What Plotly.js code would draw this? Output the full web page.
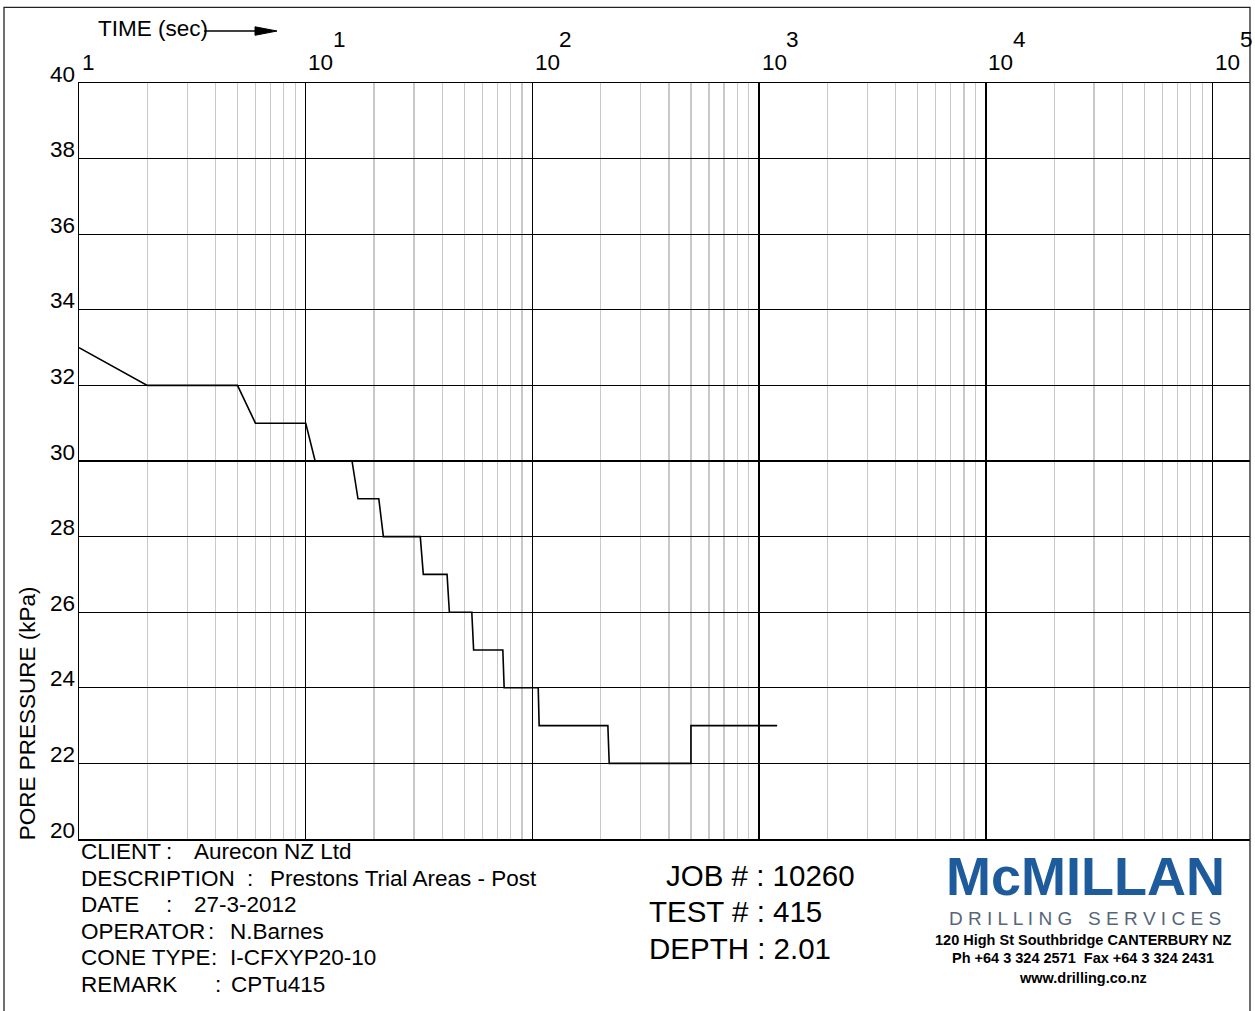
<!DOCTYPE html>
<html>
<head>
<meta charset="utf-8">
<script src="https://cdn.plot.ly/plotly-3.0.1.min.js"></script>
<style>
  html, body { margin: 0; padding: 0; background: #fff; }
  #chart { width: 1255px; height: 1011px; }
</style>
</head>
<body>
<div id="chart"></div>
<script>
// Pore pressure dissipation record, CPTu 415
const timeSec      = [1, 2, 5, 6, 10, 11, 16, 17, 21, 22, 32, 33, 42, 43, 54, 55, 74, 75, 106, 107, 215, 218, 500, 500, 1200];
const porePressure = [33, 32, 32, 31, 31, 30, 30, 29, 29, 28, 28, 27, 27, 26, 26, 25, 25, 24, 24, 23, 23, 22, 22, 23, 23];

// Axis labelling
const yTickValues  = [20, 22, 24, 26, 28, 30, 32, 34, 36, 38, 40];
const xDecadeExps  = [0, 1, 2, 3, 4, 5];
const xDecadeBase  = ['1', '10', '10', '10', '10', '10'];
const xDecadeSup   = ['', '1', '2', '3', '4', '5'];

// Test sheet details
const infoLabels = ['CLIENT', 'DESCRIPTION', 'DATE', 'OPERATOR', 'CONE TYPE', 'REMARK'];
const infoValues = ['Aurecon NZ Ltd', 'Prestons Trial Areas - Post', '27-3-2012', 'N.Barnes', 'I-CFXYP20-10', 'CPTu415'];
const jobLines   = ['JOB # : 10260', 'TEST # : 415', 'DEPTH : 2.01'];
const companyName    = 'McMILLAN';
const companyTagline = 'D R I L L I N G   S E R V I C E S';
const companyAddress = ['120 High St Southbridge CANTERBURY NZ', 'Ph +64 3 324 2571  Fax +64 3 324 2431', 'www.drilling.co.nz'];

// ---- page geometry (pixels) ----
const W = 1255, H = 1011;
const PL = 79, PR = 1250, PT = 82.7, PB = 838.7;
const plotW = PR - PL, plotH = PB - PT;
const decadePx = (1212.7 - PL) / 5;
const X = px => (px - PL) / plotW;           // page px -> paper x
const Y = py => (PB - py) / plotH;           // page px -> paper y

// minor grid lines at 2..9 of each decade
const minorTimes = [];
for (let e = 0; e < 5; e++) for (let m = 2; m <= 9; m++) minorTimes.push(m * Math.pow(10, e));

const FONT = 'Liberation Sans, Arial, sans-serif';
const txt = (text, x, y, opts) => Object.assign({
  text: text, x: x, y: y, xref: 'paper', yref: 'paper',
  showarrow: false, xanchor: 'left', yanchor: 'middle',
  font: { family: FONT, size: 22.5, color: '#000' }
}, opts || {});

const annotations = [];

// y tick labels sit just above their grid lines
yTickValues.forEach(v => annotations.push(txt(String(v), 0, v, {
  yref: 'y', xanchor: 'right', xshift: -2, yshift: 9, font: { family: FONT, size: 22.5, color: '#000' }
})));

// decade labels along the top: 10 with a raised exponent
xDecadeExps.forEach((e, i) => {
  const px = PL + e * decadePx;
  annotations.push(txt(xDecadeBase[i], X(px + 0.5), Y(62)));
  if (xDecadeSup[i]) annotations.push(txt(xDecadeSup[i], X(px + 25), Y(39)));
});

annotations.push(txt('TIME (sec)', X(96), Y(28)));
annotations.push(txt('PORE PRESSURE (kPa)', X(27), Y(713), { xanchor: 'center', textangle: -90 }));

// info block
const colonX = [164, 245, 164, 206, 209, 213];
const valueX = [192, 268, 192, 228, 228, 229];
const infoY  = [851, 878, 904.5, 931, 957.5, 984];
infoLabels.forEach((l, i) => {
  annotations.push(txt(l, X(79), Y(infoY[i])));
  annotations.push(txt(':', X(colonX[i]), Y(infoY[i])));
  annotations.push(txt(infoValues[i], X(valueX[i]), Y(infoY[i])));
});

const jobX = [664, 647, 647];
const jobY = [875, 911, 948];
jobLines.forEach((l, i) => annotations.push(txt(l, X(jobX[i]), Y(jobY[i]), {
  font: { family: FONT, size: 29.5, color: '#000' }
})));

// company block
annotations.push(txt(companyName, X(1085), Y(876), {
  xanchor: 'center', font: { family: FONT, size: 54, color: '#1e5b9c', weight: 'bold' }
}));
annotations.push(txt(companyTagline, X(1085), Y(918.5), {
  xanchor: 'center', font: { family: FONT, size: 19, color: '#56657a' }
}));
const addrY = [940, 958, 978];
companyAddress.forEach((l, i) => annotations.push(txt('<b>' + l + '</b>', X(1083), Y(addrY[i]), {
  xanchor: 'center', font: { family: FONT, size: 14.5, color: '#000' }
})));

const shapes = [
  // sheet frame
  { type: 'rect', xref: 'paper', yref: 'paper', x0: X(4), x1: X(1250), y0: Y(1040), y1: Y(7),
    line: { color: '#222', width: 1.3 }, fillcolor: 'rgba(0,0,0,0)', layer: 'above' },
  // time arrow
  { type: 'line', xref: 'paper', yref: 'paper', x0: X(204), x1: X(258), y0: Y(30.7), y1: Y(30.7),
    line: { color: '#000', width: 1.3 } },
  { type: 'path', xref: 'paper', yref: 'paper',
    path: `M ${X(255)} ${Y(26.5)} L ${X(277)} ${Y(30.7)} L ${X(255)} ${Y(35)} Z`,
    fillcolor: '#000', line: { color: '#000', width: 1 } }
];

const data = [{
  type: 'scatter', mode: 'lines',
  x: timeSec, y: porePressure,
  line: { color: '#000', width: 1.6 },
  hoverinfo: 'skip', showlegend: false
}];

const layout = {
  width: W, height: H,
  margin: { l: PL, r: W - PR, t: PT, b: H - PB, pad: 0 },
  paper_bgcolor: '#fff', plot_bgcolor: '#fff',
  showlegend: false,
  xaxis: {
    type: 'log', range: [0, plotW / decadePx], dtick: 1,
    showgrid: true, gridcolor: '#000', gridwidth: 1.5,
    showticklabels: false, ticks: '', zeroline: false,
    showline: true, linecolor: '#000', linewidth: 1.5, mirror: true,
    minor: { tickmode: 'array', tickvals: minorTimes, showgrid: true, gridcolor: '#c9c9c9', gridwidth: 1.3, ticks: '' },
    fixedrange: true
  },
  yaxis: {
    range: [20, 40], dtick: 2,
    showgrid: true, gridcolor: '#000', gridwidth: 1.3,
    showticklabels: false, ticks: '', zeroline: false,
    showline: true, linecolor: '#000', linewidth: 1.5,
    fixedrange: true
  },
  annotations: annotations,
  shapes: shapes
};

Plotly.newPlot('chart', data, layout, { staticPlot: true, displayModeBar: false });
</script>
</body>
</html>
